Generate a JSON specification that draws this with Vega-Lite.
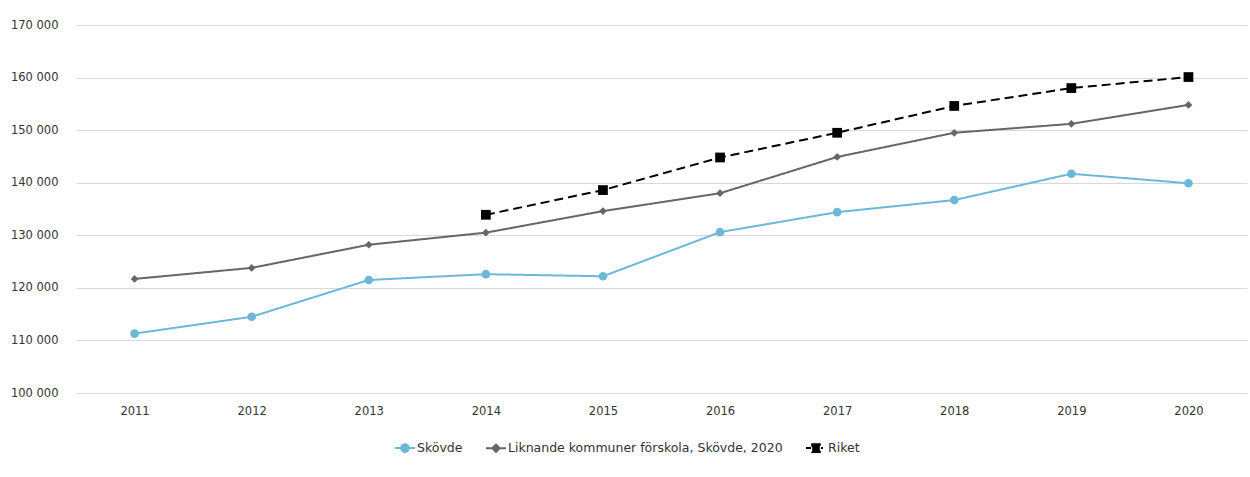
{
  "$schema": "https://vega.github.io/schema/vega-lite/v6.json",
  "width": 1171,
  "height": 368,
  "autosize": "none",
  "padding": {"left": 76, "top": 25, "right": 3, "bottom": 84},
  "background": "white",
  "config": {
    "view": {"stroke": null},
    "font": "DejaVu Sans",
    "axis": {"labelFont": "DejaVu Sans", "labelFontSize": 11.5, "labelColor": "#333333"},
    "legend": {"labelFont": "DejaVu Sans", "labelFontSize": 12.5, "labelColor": "#333333"}
  },
  "data": {
    "values": [
      {"year": "2011", "series": "Skövde", "value": 111300},
      {"year": "2012", "series": "Skövde", "value": 114500},
      {"year": "2013", "series": "Skövde", "value": 121500},
      {"year": "2014", "series": "Skövde", "value": 122600},
      {"year": "2015", "series": "Skövde", "value": 122200},
      {"year": "2016", "series": "Skövde", "value": 130600},
      {"year": "2017", "series": "Skövde", "value": 134400},
      {"year": "2018", "series": "Skövde", "value": 136700},
      {"year": "2019", "series": "Skövde", "value": 141700},
      {"year": "2020", "series": "Skövde", "value": 139900},
      {"year": "2011", "series": "Liknande kommuner förskola, Skövde, 2020", "value": 121700},
      {"year": "2012", "series": "Liknande kommuner förskola, Skövde, 2020", "value": 123800},
      {"year": "2013", "series": "Liknande kommuner förskola, Skövde, 2020", "value": 128200},
      {"year": "2014", "series": "Liknande kommuner förskola, Skövde, 2020", "value": 130500},
      {"year": "2015", "series": "Liknande kommuner förskola, Skövde, 2020", "value": 134600},
      {"year": "2016", "series": "Liknande kommuner förskola, Skövde, 2020", "value": 138000},
      {"year": "2017", "series": "Liknande kommuner förskola, Skövde, 2020", "value": 144900},
      {"year": "2018", "series": "Liknande kommuner förskola, Skövde, 2020", "value": 149500},
      {"year": "2019", "series": "Liknande kommuner förskola, Skövde, 2020", "value": 151200},
      {"year": "2020", "series": "Liknande kommuner förskola, Skövde, 2020", "value": 154800},
      {"year": "2014", "series": "Riket", "value": 133900},
      {"year": "2015", "series": "Riket", "value": 138600},
      {"year": "2016", "series": "Riket", "value": 144800},
      {"year": "2017", "series": "Riket", "value": 149500},
      {"year": "2018", "series": "Riket", "value": 154600},
      {"year": "2019", "series": "Riket", "value": 158000},
      {"year": "2020", "series": "Riket", "value": 160100}
    ]
  },
  "encoding": {
    "x": {
      "field": "year", "type": "ordinal",
      "scale": {"type": "point", "padding": 0.5},
      "axis": {"title": null, "labelAngle": 0, "domain": false, "ticks": false, "labelPadding": 12, "grid": false}
    },
    "y": {
      "field": "value", "type": "quantitative",
      "scale": {"domain": [100000, 170000], "nice": false, "zero": false},
      "axis": {
        "title": null, "values": [100000, 110000, 120000, 130000, 140000, 150000, 160000, 170000],
        "labelExpr": "replace(format(datum.value, ','), ',', ' ')",
        "domain": false, "ticks": false, "labelPadding": 18,
        "grid": true, "gridColor": "#d9d9d9", "gridWidth": 1
      }
    },
    "color": {
      "field": "series", "type": "nominal",
      "scale": {
        "domain": ["Skövde", "Liknande kommuner förskola, Skövde, 2020", "Riket"],
        "range": ["#6db7d8", "#666666", "#000000"]
      },
      "legend": {
        "title": null, "orient": "none", "direction": "horizontal",
        "legendX": 318, "legendY": 412, "labelLimit": 0,
        "columnPadding": 19, "labelOffset": 1,
        "symbolSize": 400, "symbolStrokeWidth": 2,
        "encode": {
          "symbols": {
            "update": {
              "shape": {"signal": "datum.value == 'Skövde' ? 'M-1,0H1M0.38,0A0.38,0.38,0,1,1,-0.38,0A0.38,0.38,0,1,1,0.38,0Z' : datum.value == 'Riket' ? 'M-1,0H-0.5M-0.38,-0.38H0.38V0.38H-0.38ZM0.5,0H0.7' : 'M-1,0H1M0,-0.36L0.36,0L0,0.36L-0.36,0Z'"},
              "fill": {"signal": "scale('color', datum.value)"},
              "stroke": {"signal": "scale('color', datum.value)"},
              "strokeDash": {"value": [1, 0]}
            }
          }
        }
      }
    }
  },
  "layer": [
    {
      "mark": {"type": "line", "strokeWidth": 2},
      "encoding": {
        "strokeDash": {
          "field": "series", "type": "nominal",
          "scale": {
            "domain": ["Skövde", "Liknande kommuner förskola, Skövde, 2020", "Riket"],
            "range": [[1, 0], [1, 0], [9, 5]]
          },
          "legend": null
        },
        "strokeWidth": {
          "field": "series", "type": "nominal",
          "scale": {
            "domain": ["Skövde", "Liknande kommuner förskola, Skövde, 2020", "Riket"],
            "range": [2, 2, 2.5]
          },
          "legend": null
        }
      }
    },
    {
      "transform": [{"filter": "datum.series == 'Skövde'"}],
      "mark": {"type": "point", "filled": true, "opacity": 1, "shape": "circle", "size": 75}
    },
    {
      "transform": [{"filter": "datum.series == 'Liknande kommuner förskola, Skövde, 2020'"}],
      "mark": {"type": "point", "filled": true, "opacity": 1, "shape": "diamond", "size": 60}
    },
    {
      "transform": [{"filter": "datum.series == 'Riket'"}],
      "mark": {"type": "point", "filled": true, "opacity": 1, "shape": "square", "size": 95}
    }
  ]
}
